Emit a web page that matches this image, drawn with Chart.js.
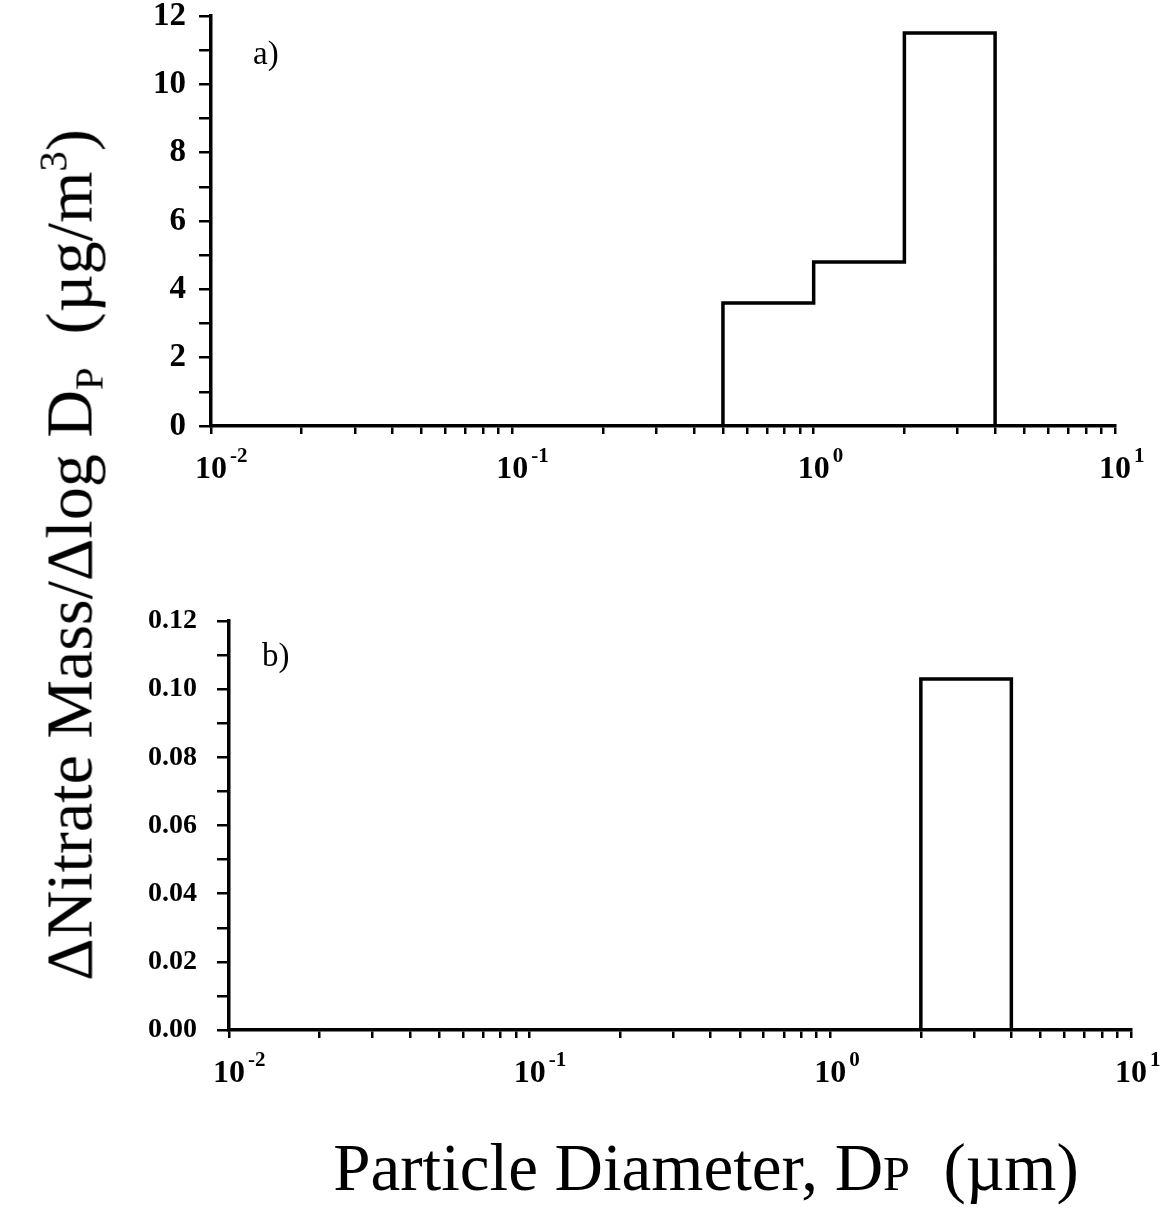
<!DOCTYPE html>
<html>
<head>
<meta charset="utf-8">
<script src="https://cdn.jsdelivr.net/npm/chart.js@4.4.1/dist/chart.umd.min.js"></script>
<style>
  body {
    margin: 0;
    width: 1168px;
    height: 1212px;
    position: relative;
    overflow: hidden;
    background: #fff;
    font-family: "Liberation Serif", "Times New Roman", serif;
    color: #000;
  }
  canvas { position: absolute; left: 0; }
  #chart-a { top: 0; }
  #chart-b { top: 560px; }
  .y-title {
    position: absolute;
    left: 74px;
    top: 555px;
    transform: translate(-50%, -50%) rotate(-90deg);
    white-space: nowrap;
    font-size: 66px;
    line-height: 66px;
  }
  .x-title {
    position: absolute;
    left: 706px;
    top: 1134px;
    transform: translateX(-50%);
    white-space: nowrap;
    font-size: 67px;
    line-height: 66px;
  }
  .sub { font-size: 0.62em; position: relative; top: 0.28em; }
  .sup { font-size: 0.62em; position: relative; top: -0.62em; }
  .sc { font-size: 0.72em; }
</style>
</head>
<body>
<canvas id="chart-a" width="1168" height="520"></canvas>
<canvas id="chart-b" width="1168" height="560"></canvas>
<div class="y-title">ΔNitrate Mass/Δlog D<span class="sub">P</span>&nbsp;&nbsp;(µg/m<span class="sup">3</span>)</div>
<div class="x-title">Particle Diameter, D<span class="sc">P</span>&nbsp;&nbsp;(µm)</div>
<script>
// impactor stage edges (µm) and ΔM/ΔlogDp per stage
const binEdgesA = [0.5, 1, 2, 4];
const nitrateA = [3.6, 4.8, 11.5];
const binEdgesB = [2, 4];
const nitrateB = [0.103];

const xDecades = [0.01, 0.1, 1, 10];
const xDecadeExponents = ['-2', '-1', '0', '1'];
const xMinorMultipliers = [1, 2, 3, 4, 5, 6, 7, 8, 9];

const yMaxA = 12;
const yStepA = 1;
const yMaxB = 0.12;
const yStepB = 0.01;

const SERIF = '"Liberation Serif", "Times New Roman", serif';

function buildSteps(edges, values) {
  const points = [{ x: edges[0], y: 0 }];
  values.forEach((value, index) => {
    points.push({ x: edges[index], y: value });
  });
  points.push({ x: edges[edges.length - 1], y: 0 });
  return points;
}

function buildLogTicks() {
  const ticks = [];
  xDecades.slice(0, -1).forEach((decade) => {
    xMinorMultipliers.forEach((m) => ticks.push({ value: m * decade }));
  });
  ticks.push({ value: xDecades[xDecades.length - 1] });
  return ticks;
}

const decadeLabels = {
  id: 'decadeLabels',
  afterDraw(chart, args, opts) {
    const { ctx, chartArea } = chart;
    const xScale = chart.scales.x;
    const baseline = chartArea.bottom + opts.offset;

    ctx.save();
    ctx.fillStyle = '#000';
    ctx.textBaseline = 'alphabetic';
    xDecades.forEach((decade, index) => {
      const px = xScale.getPixelForValue(decade);
      ctx.font = `bold 32px ${SERIF}`;
      const width = ctx.measureText('10').width;
      ctx.textAlign = 'center';
      ctx.fillText('10', px, baseline);
      ctx.font = `bold 21px ${SERIF}`;
      ctx.textAlign = 'left';
      ctx.fillText(xDecadeExponents[index], px + width / 2 + 3, baseline - 16);
    });
    ctx.restore();
  },
};

const panelText = {
  id: 'panelText',
  afterDraw(chart, args, opts) {
    const { ctx, chartArea } = chart;
    ctx.save();
    ctx.fillStyle = '#000';
    ctx.font = `33px ${SERIF}`;
    ctx.textAlign = 'left';
    ctx.textBaseline = 'alphabetic';
    ctx.fillText(opts.label, chartArea.left + opts.dx, chartArea.top + opts.dy);
    ctx.restore();
  },
};

function axisLook(tickLength) {
  return {
    grid: {
      display: true,
      drawOnChartArea: false,
      drawTicks: true,
      tickLength,
      lineWidth: 2.5,
      color: '#000',
    },
    border: { display: true, color: '#000', width: 3.5 },
  };
}

function fixSize(prop, size) {
  return (scale) => {
    scale[prop] = size;
    scale.paddingTop = 0;
    scale.paddingBottom = 0;
    scale.paddingLeft = 0;
    scale.paddingRight = 0;
  };
}

function makePanel(canvas, cfg) {
  return new Chart(canvas, {
    type: 'line',
    data: {
      datasets: [
        {
          data: buildSteps(cfg.edges, cfg.values),
          stepped: 'before',
          borderColor: '#000',
          borderWidth: 3.5,
          borderJoinStyle: 'miter',
          pointRadius: 0,
          fill: false,
          clip: false,
        },
      ],
    },
    options: {
      responsive: false,
      devicePixelRatio: 1,
      animation: false,
      events: [],
      layout: { padding: cfg.padding },
      plugins: {
        legend: { display: false },
        tooltip: { enabled: false },
        decadeLabels: { offset: 52 },
        panelText: cfg.panel,
      },
      scales: {
        x: {
          type: 'logarithmic',
          min: xDecades[0],
          max: xDecades[xDecades.length - 1],
          afterBuildTicks: (scale) => {
            scale.ticks = buildLogTicks();
          },
          afterFit: fixSize('height', cfg.xHeight),
          ticks: {
            autoSkip: false,
            maxRotation: 0,
            callback: () => '',
          },
          ...axisLook(8),
        },
        y: {
          min: 0,
          max: cfg.yMax,
          afterFit: fixSize('width', cfg.yWidth),
          ticks: {
            stepSize: cfg.yStep,
            autoSkip: false,
            padding: cfg.labelPad,
            color: '#000',
            font: { family: SERIF, size: cfg.yFont, weight: 'bold' },
            callback: cfg.yLabel,
          },
          ...axisLook(12),
        },
      },
    },
    plugins: [decadeLabels, panelText],
  });
}

makePanel(document.getElementById('chart-a'), {
  edges: binEdgesA,
  values: nitrateA,
  yMax: yMaxA,
  yStep: yStepA,
  yFont: 33,
  labelPad: 13,
  yLabel: (value) => (Math.round(value) % 2 === 0 ? String(Math.round(value)) : ''),
  padding: { left: 0, top: 16, right: 53, bottom: 0 },
  yWidth: 211,
  xHeight: 94,
  panel: { label: 'a)', dx: 42, dy: 48 },
});

makePanel(document.getElementById('chart-b'), {
  edges: binEdgesB,
  values: nitrateB,
  yMax: yMaxB,
  yStep: yStepB,
  yFont: 28,
  labelPad: 20,
  yLabel: (value) => {
    const hundredths = Math.round(value * 100);
    return hundredths % 2 === 0 ? (hundredths / 100).toFixed(2) : '';
  },
  padding: { left: 0, top: 61, right: 37, bottom: 0 },
  yWidth: 229,
  xHeight: 90,
  panel: { label: 'b)', dx: 33, dy: 45 },
});
</script>
</body>
</html>
